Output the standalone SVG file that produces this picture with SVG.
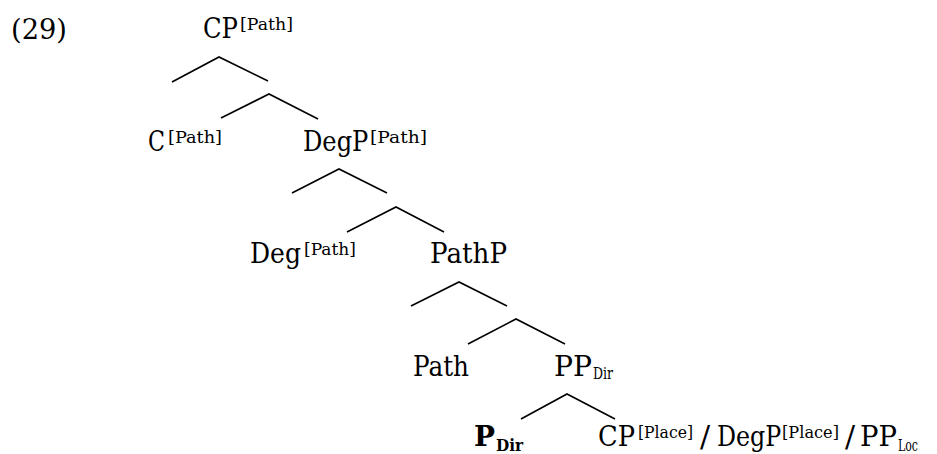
<svg xmlns="http://www.w3.org/2000/svg" width="937" height="454" viewBox="0 0 937 454">
<style>
  text { font-family: "DejaVu Serif", "Liberation Serif", serif; fill: #000; }
  .m { font-size: 27px; }
  .s { font-size: 17px; }
  .u { font-size: 16px; }
  .b { font-weight: bold; }
  .sl { font-size: 30px; }
  .edge { stroke: #000; stroke-width: 1.6; fill: none; stroke-linecap: butt; }
</style>
<rect width="937" height="454" fill="#fff"/>
<g id="label-29"><text class="m" x="11" y="39" textLength="56" lengthAdjust="spacingAndGlyphs">(29)</text></g>
<g id="node-CP-path">
  <text class="m" x="203" y="38" textLength="35" lengthAdjust="spacingAndGlyphs">CP</text>
  <text class="s" x="240" y="30" textLength="53" lengthAdjust="spacingAndGlyphs">[Path]</text>
</g>
<g id="node-C-path">
  <text class="m" x="148" y="151" textLength="17" lengthAdjust="spacingAndGlyphs">C</text>
  <text class="s" x="168" y="143" textLength="54" lengthAdjust="spacingAndGlyphs">[Path]</text>
</g>
<g id="node-DegP-path">
  <text class="m" transform="translate(303,151) scale(0.895,1)" x="0" y="0">DegP</text>
  <text class="s" x="370" y="143" textLength="57" lengthAdjust="spacingAndGlyphs">[Path]</text>
</g>
<g id="node-Deg-path">
  <text class="m" x="250" y="263" textLength="51" lengthAdjust="spacingAndGlyphs">Deg</text>
  <text class="s" x="304" y="255" textLength="52" lengthAdjust="spacingAndGlyphs">[Path]</text>
</g>
<g id="node-PathP">
  <text class="m" x="430" y="263" textLength="77" lengthAdjust="spacingAndGlyphs">PathP</text>
</g>
<g id="node-Path">
  <text class="m" x="413" y="376" textLength="56" lengthAdjust="spacingAndGlyphs">Path</text>
</g>
<g id="node-PPDir">
  <text class="m" x="554" y="376" textLength="38" lengthAdjust="spacingAndGlyphs">PP</text>
  <text class="u" x="593" y="379" textLength="20" lengthAdjust="spacingAndGlyphs">Dir</text>
</g>
<g id="node-PDir">
  <text class="m b" x="474" y="446" textLength="21" lengthAdjust="spacingAndGlyphs">P</text>
  <text class="u b" x="496" y="451" textLength="27" lengthAdjust="spacingAndGlyphs">Dir</text>
</g>
<g id="node-complement">
  <text class="m" x="598" y="446" textLength="37" lengthAdjust="spacingAndGlyphs">CP</text>
  <text class="s" x="638" y="438" textLength="55" lengthAdjust="spacingAndGlyphs">[Place]</text>
  <text class="sl" x="705" y="447" text-anchor="middle">/</text>
  <text class="m" transform="translate(717,446) scale(0.88,1)" x="0" y="0">DegP</text>
  <text class="s" x="782" y="438" textLength="57" lengthAdjust="spacingAndGlyphs">[Place]</text>
  <text class="sl" x="850" y="447" text-anchor="middle">/</text>
  <text class="m" x="860" y="446" textLength="37" lengthAdjust="spacingAndGlyphs">PP</text>
  <text class="u" x="898" y="451" textLength="20" lengthAdjust="spacingAndGlyphs">Loc</text>
</g>
<g id="connectors">
  <polyline class="edge" points="172,82 219,57 268,81"/>
  <polyline class="edge" points="221,118 269,94 318,119"/>
  <polyline class="edge" points="292,193 339,169 387,193"/>
  <polyline class="edge" points="347,232 396,207 444,232"/>
  <polyline class="edge" points="411,306 459,282 507,306"/>
  <polyline class="edge" points="468,344 516,319 565,344"/>
  <polyline class="edge" points="521,419 567,394 615,419"/>
</g>
</svg>
